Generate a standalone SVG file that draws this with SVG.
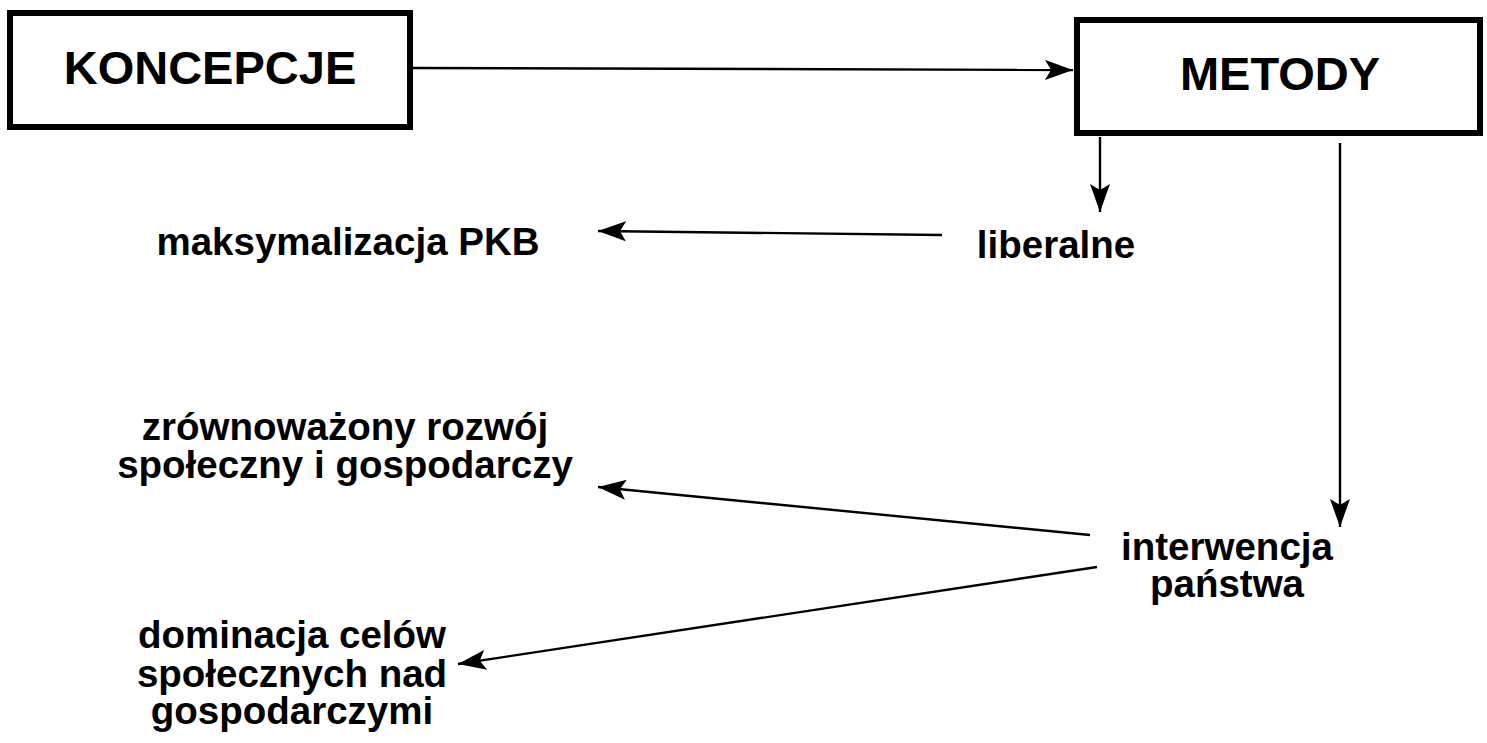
<svg xmlns="http://www.w3.org/2000/svg" width="1487" height="743" viewBox="0 0 1487 743">
<style>
.box{fill:#fff;stroke:#000;stroke-width:6}
.t{font-family:"Liberation Sans",Arial,sans-serif;font-weight:bold;fill:#000;text-anchor:middle}
.big{font-size:47px}
.lbl{font-size:38.5px}
.c{stroke:#000;stroke-width:2.4;fill:none;marker-end:url(#ah)}
</style>
<defs>
<marker id="ah" viewBox="0 0 28 20" refX="28" refY="10" markerWidth="28" markerHeight="20" markerUnits="userSpaceOnUse" orient="auto">
<path d="M0,0 L28,10 L0,20 L6,10 Z" fill="#000"/>
</marker>
</defs>
<rect width="1487" height="743" fill="#fff"/>
<g id="connectors">
<line class="c" x1="413" y1="68" x2="1073" y2="70"/>
<line class="c" x1="1100" y1="137" x2="1100" y2="212"/>
<line class="c" x1="1340" y1="143" x2="1340" y2="527"/>
<line class="c" x1="942" y1="235" x2="598" y2="231"/>
<line class="c" x1="1090" y1="535" x2="598" y2="487"/>
<line class="c" x1="1097" y1="567" x2="458" y2="664"/>
</g>
<g id="koncepcje">
<rect class="box" x="10" y="13" width="400" height="114"/>
<text class="t big" x="210" y="84">KONCEPCJE</text>
</g>
<g id="metody">
<rect class="box" x="1077" y="20" width="403" height="113"/>
<text class="t big" x="1280" y="90">METODY</text>
</g>
<g id="maksymalizacja">
<text class="t lbl" x="348" y="255">maksymalizacja PKB</text>
</g>
<g id="liberalne">
<text class="t lbl" x="1056" y="258">liberalne</text>
</g>
<g id="zrownowazony">
<text class="t lbl" x="345" y="440">zrównoważony rozwój</text>
<text class="t lbl" x="345" y="478">społeczny i gospodarczy</text>
</g>
<g id="interwencja">
<text class="t lbl" x="1227" y="560">interwencja</text>
<text class="t lbl" x="1227" y="597">państwa</text>
</g>
<g id="dominacja">
<text class="t lbl" x="292" y="648">dominacja celów</text>
<text class="t lbl" x="292" y="687">społecznych nad</text>
<text class="t lbl" x="292" y="724">gospodarczymi</text>
</g>
</svg>
